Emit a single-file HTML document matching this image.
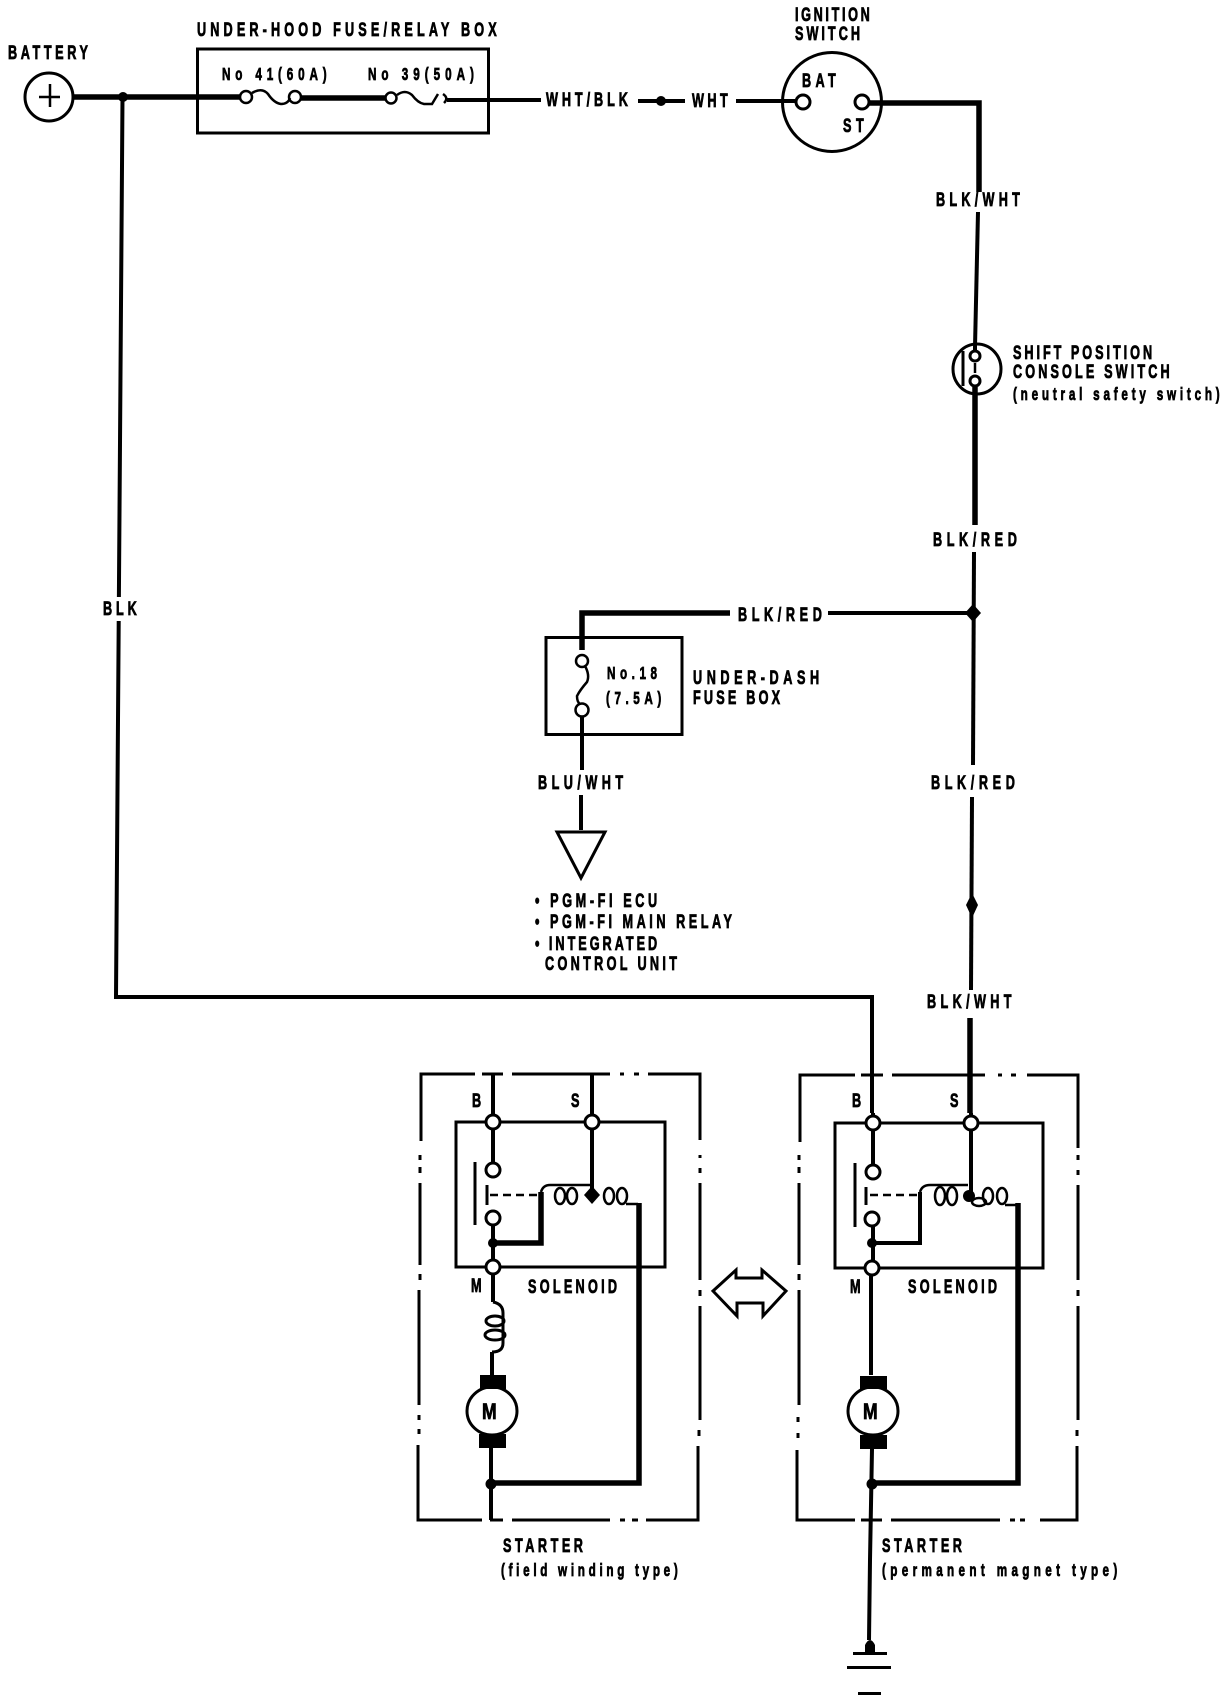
<!DOCTYPE html>
<html><head><meta charset="utf-8"><style>
html,body{margin:0;padding:0;background:#fff}
svg{display:block}
text{font-family:"Liberation Sans",sans-serif;font-weight:bold;font-size:19.500px;fill:#000;stroke:#000;stroke-width:.8}
.s{font-size:18px}
.w{fill:none;stroke:#000;stroke-width:4}
.t{fill:none;stroke:#000;stroke-width:5.5}
.n{fill:none;stroke:#000;stroke-width:3}
.o{fill:#fff;stroke:#000;stroke-width:3}
.h{fill:none;stroke:#000;stroke-width:2.5}
</style></head><body>
<svg xmlns="http://www.w3.org/2000/svg" width="1232" height="1700" viewBox="0 0 1232 1700">
<rect width="1232" height="1700" fill="#fff"/>

<!-- Battery -->
<circle class="n" cx="49" cy="97" r="24"/>
<path class="h" d="M50 84V107M39 97H60"/>
<path class="t" d="M73 97H241"/>
<path class="w" d="M122.500 97L116 997H872V1113"/>
<circle cx="123" cy="97" r="5"/>
<rect x="100" y="597" width="40" height="24" fill="#fff"/>

<!-- Under-hood box -->
<rect class="n" x="197.500" y="49" width="291" height="84"/>
<circle class="h" cx="246" cy="97" r="6"/><circle class="h" cx="295" cy="97" r="6"/>
<path class="h" d="M252 93Q262 87 268 94Q274 103 281 104Q288 104 290 98" stroke-width="3"/>
<path class="t" d="M301 98H386"/>
<circle class="h" cx="391" cy="98" r="5.500"/>
<path class="h" d="M397 95Q405 89 412 95Q418 103 424 104H432L438 94M443 94Q449 98 444 103" stroke-width="3"/>
<path class="w" d="M447 100H541"/>

<!-- Wires to ignition -->
<path class="w" d="M638 101H685"/><circle cx="661" cy="101" r="5"/>
<path class="w" d="M736 101H796"/>

<!-- Ignition switch -->
<circle class="n" cx="832" cy="102" r="49.500"/>
<circle class="o" cx="803" cy="102" r="7"/>
<circle class="o" cx="862" cy="102" r="7"/>
<path class="t" d="M869 103H979V192"/>
<path class="w" d="M978 212L975 347"/>

<!-- Shift position switch -->
<ellipse class="n" cx="977" cy="369" rx="24" ry="25"/>
<path class="n" d="M963 351V386"/>
<path class="w" d="M975 347V351"/>
<circle class="o" cx="975" cy="356" r="5"/>
<circle class="o" cx="975" cy="381" r="5"/>
<path class="h" d="M975 363V373"/>
<path class="t" d="M975 387V525" stroke-width="5"/>
<path class="w" d="M974 552L973 765"/>
<path d="M973 604L981 613L973 622L965 613Z"/>
<path class="w" d="M828 613H973"/>
<path class="t" d="M730 613H582V650" stroke-width="4.500"/>

<!-- Under-dash box -->
<rect class="n" x="546" y="637.500" width="136" height="97"/>
<circle class="h" cx="582" cy="661" r="6" stroke-width="3"/>
<circle class="h" cx="582" cy="710" r="6.500" stroke-width="3"/>
<path class="h" stroke-width="3" d="M585 666Q590 675 587 682Q580 690 577 696Q577 702 580 704"/>
<path class="w" d="M582 716V770M581 795V830"/>
<path class="n" d="M557 832H605L581 878Z"/>

<path class="w" d="M972 797L971 990"/>
<path d="M972 893L978 905L972 918L966 905Z"/>
<path class="t" d="M970 1018V1113" stroke-width="5"/>

<!-- Left starter -->
<path class="n" d="M475 1074H421V1141M482 1074H503M512 1074H610M620 1074h4M634 1074h5M648 1074H700V1140M700 1155v3M700 1168v5M700 1183V1280M700 1290v6M700 1306V1420M699 1430v6M698 1446V1520H646M638 1520h-6M625 1520h-5M610 1520H512M503 1520H490M482 1520H418V1445M419 1434v-5M419 1420v-5M419 1405V1290M420 1280v-6M420 1265V1183M420 1173v-6M420 1160v-5"/>
<rect class="n" x="456" y="1122" width="209" height="145"/>
<path class="w" d="M493 1074V1163M592 1074V1195M493 1226V1267M493 1274V1302"/>
<circle class="o" cx="493" cy="1122" r="7"/>
<circle class="o" cx="592" cy="1122" r="7"/>
<circle class="o" cx="493" cy="1267" r="7"/>
<circle class="o" cx="493" cy="1170" r="7"/>
<circle class="o" cx="493" cy="1218" r="7"/>
<path class="n" d="M475 1162V1225M487 1185V1205"/>
<path class="h" stroke-dasharray="8 5" d="M490 1195H540"/>
<circle cx="493" cy="1243" r="5"/>
<path class="t" d="M493 1243H541V1192" stroke-width="4.500"/>
<path class="h" d="M541 1192Q543 1185 550 1185H590"/>
<ellipse class="h" cx="560" cy="1196" rx="5" ry="8"/>
<ellipse class="h" cx="572" cy="1196" rx="5" ry="8"/>
<path d="M592 1186L600 1195L592 1204L584 1195Z"/>
<ellipse class="h" cx="609" cy="1196" rx="5" ry="8"/>
<ellipse class="h" cx="622" cy="1196" rx="5" ry="8"/>
<path class="h" d="M626 1204H638"/>
<path class="t" d="M639 1203V1483H492" stroke-width="5"/>
<path class="n" d="M493 1302Q503 1304 503 1313V1343Q503 1352 492 1352"/>
<ellipse class="n" cx="495" cy="1321" rx="9" ry="5"/>
<ellipse class="n" cx="495" cy="1335" rx="10" ry="5"/>
<path class="w" d="M492 1352V1375"/>
<rect x="480" y="1375" width="26" height="14"/>
<rect x="479" y="1434" width="27" height="14"/>
<ellipse class="n" cx="492" cy="1411" rx="25" ry="24"/>
<circle cx="491" cy="1484" r="5.500"/>
<path class="w" d="M491 1448V1520" stroke-width="3"/>

<!-- Right starter -->
<path class="n" d="M855 1075H800V1142M861 1075H883M892 1075H985M998 1075h4M1011 1075h5M1027 1075H1078V1148M1078 1155v5M1078 1170v5M1078 1185V1280M1078 1290v6M1078 1306V1420M1077 1430v6M1077 1446V1520H1040M1025 1520h-5M1015 1520h-5M1000 1520H891M882 1520H861M855 1520H797V1450M798 1438v-5M798 1422v-5M799 1405V1290M799 1280v-6M799 1265V1183M799 1173v-6M799 1160v-5"/>
<rect class="n" x="835" y="1123" width="208" height="145"/>
<path class="w" d="M971 1113V1195M873 1113V1165M873 1226V1268M871 1276V1375"/>
<circle class="o" cx="873" cy="1123" r="7"/>
<circle class="o" cx="971" cy="1123" r="7"/>
<circle class="o" cx="872" cy="1268" r="7"/>
<circle class="o" cx="873" cy="1172" r="7"/>
<circle class="o" cx="872" cy="1219" r="7"/>
<path class="n" d="M855 1163V1227M866 1187V1205"/>
<path class="h" stroke-dasharray="8 5" d="M870 1195H918"/>
<circle cx="872" cy="1243" r="5"/>
<path class="w" d="M872 1243H920V1192"/>
<path class="h" d="M920 1192Q922 1185 930 1185H968"/>
<ellipse class="h" cx="940" cy="1196" rx="5" ry="9"/>
<ellipse class="h" cx="952" cy="1196" rx="5" ry="9"/>
<circle cx="969" cy="1196" r="6"/>
<ellipse class="h" cx="979" cy="1202" rx="7" ry="4"/>
<ellipse class="h" cx="988" cy="1196" rx="5" ry="8"/>
<ellipse class="h" cx="1002" cy="1196" rx="5" ry="8"/>
<path class="h" d="M1005 1205H1017"/>
<path class="t" d="M1018 1203V1483H872" stroke-width="5"/>
<rect x="860" y="1376" width="27" height="13"/>
<rect x="860" y="1435" width="27" height="14"/>
<ellipse class="n" cx="873" cy="1411" rx="25" ry="24"/>
<circle cx="872" cy="1484" r="5.500"/>
<path class="w" d="M872 1449L870 1560L869 1640"/>
<path d="M865 1654V1645Q870 1635 875 1645V1654Z"/>
<path d="M853 1652H887V1655H853Z"/>
<rect x="847" y="1666" width="44" height="3"/>
<rect x="858" y="1692" width="23" height="3"/>

<!-- Double arrow -->
<path class="n" d="M713 1291L736 1270V1278H762V1270L786 1291L763 1316V1303H737V1316Z"/>

<!-- Labels -->
<text transform="matrix(.65 0 0 1 8 59)" textLength="123">BATTERY</text>
<text transform="matrix(.65 0 0 1 197 36)" textLength="461">UNDER-HOOD FUSE/RELAY BOX</text>
<text class="s" transform="matrix(.65 0 0 1 222 80)" textLength="161">No 41(60A)</text>
<text class="s" transform="matrix(.65 0 0 1 368 80)" textLength="163">No 39(50A)</text>
<text transform="matrix(.65 0 0 1 546 106)" textLength="126">WHT/BLK</text>
<text transform="matrix(.65 0 0 1 692 107)" textLength="55">WHT</text>
<text transform="matrix(.65 0 0 1 795 21)" textLength="115">IGNITION</text>
<text transform="matrix(.65 0 0 1 795 40)" textLength="100">SWITCH</text>
<text transform="matrix(.65 0 0 1 802 87)" textLength="52">BAT</text>
<text transform="matrix(.65 0 0 1 843 132)" textLength="32">ST</text>
<text transform="matrix(.65 0 0 1 936 206)" textLength="129">BLK/WHT</text>
<text transform="matrix(.65 0 0 1 1013 359)" textLength="214">SHIFT POSITION</text>
<text transform="matrix(.65 0 0 1 1013 378)" textLength="241">CONSOLE SWITCH</text>
<text class="s" transform="matrix(.65 0 0 1 1013 400)" textLength="318">(neutral safety switch)</text>
<text transform="matrix(.65 0 0 1 933 546)" textLength="129">BLK/RED</text>
<text transform="matrix(.65 0 0 1 738 621)" textLength="129">BLK/RED</text>
<text transform="matrix(.65 0 0 1 931 789)" textLength="129">BLK/RED</text>
<text transform="matrix(.65 0 0 1 927 1008)" textLength="130">BLK/WHT</text>
<text transform="matrix(.65 0 0 1 103 615)" textLength="52">BLK</text>
<text class="s" transform="matrix(.65 0 0 1 607 679)" textLength="77">No.18</text>
<text class="s" transform="matrix(.65 0 0 1 606 704)" textLength="85">(7.5A)</text>
<text transform="matrix(.65 0 0 1 693 684)" textLength="194">UNDER-DASH</text>
<text transform="matrix(.65 0 0 1 693 704)" textLength="134">FUSE BOX</text>
<text transform="matrix(.65 0 0 1 538 789)" textLength="131">BLU/WHT</text>
<text transform="matrix(.65 0 0 1 535 907)" textLength="188">• PGM-FI ECU</text>
<text transform="matrix(.65 0 0 1 535 928)" textLength="303">• PGM-FI MAIN RELAY</text>
<text transform="matrix(.65 0 0 1 535 950)" textLength="188">• INTEGRATED</text>
<text transform="matrix(.65 0 0 1 545 970)" textLength="203">CONTROL UNIT</text>
<text transform="matrix(.65 0 0 1 472 1107)" textLength="14">B</text>
<text transform="matrix(.65 0 0 1 571 1107)" textLength="14">S</text>
<text transform="matrix(.65 0 0 1 471 1292)" textLength="18">M</text>
<text transform="matrix(.65 0 0 1 528 1293)" textLength="137">SOLENOID</text>
<text transform="matrix(.65 0 0 1 852 1107)" textLength="14">B</text>
<text transform="matrix(.65 0 0 1 950 1107)" textLength="14">S</text>
<text transform="matrix(.65 0 0 1 850 1293)" textLength="18">M</text>
<text transform="matrix(.65 0 0 1 908 1293)" textLength="137">SOLENOID</text>
<text transform="matrix(.65 0 0 1 503 1552)" textLength="123">STARTER</text>
<text class="s" transform="matrix(.65 0 0 1 501 1576)" textLength="272">(field winding type)</text>
<text transform="matrix(.65 0 0 1 882 1552)" textLength="123">STARTER</text>
<text class="s" transform="matrix(.65 0 0 1 882 1576)" textLength="362">(permanent magnet type)</text>
<text transform="matrix(.8 0 0 1 482 1419)" style="font-size:22px">M</text>
<text transform="matrix(.8 0 0 1 863 1419)" style="font-size:22px">M</text>
</svg>
</body></html>
